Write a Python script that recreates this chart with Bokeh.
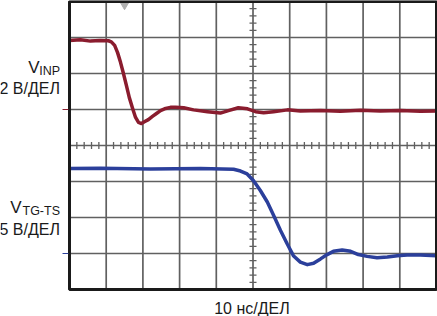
import math
from bokeh.plotting import figure
from bokeh.models import Range1d
from bokeh.core.properties import value
from bokeh.embed import file_html
from bokeh.resources import INLINE

# ---- data (x in horizontal divisions 0..10, y in vertical divisions 0..8) ----
inp_x = [0, 0.30, 0.57, 0.84, 1.06, 1.14, 1.23, 1.31, 1.39, 1.47, 1.55, 1.63, 1.72,
         1.80, 1.88, 1.96, 2.04, 2.15, 2.26, 2.37, 2.48, 2.62, 2.75, 2.89, 3.11,
         3.38, 3.76, 4.11, 4.33, 4.60, 4.85, 5.07, 5.29, 5.56, 5.94, 6.29, 6.84,
         7.38, 7.93, 8.47, 9.02, 9.56, 10]
inp_y = [6.92, 6.94, 6.90, 6.92, 6.91, 6.88, 6.78, 6.58, 6.31, 6.00, 5.67, 5.33, 5.03,
         4.78, 4.64, 4.61, 4.66, 4.72, 4.81, 4.89, 4.97, 5.03, 5.06, 5.06, 5.05,
         4.99, 4.94, 4.90, 4.97, 5.05, 5.02, 4.94, 4.91, 4.94, 4.99, 4.96, 4.97,
         4.95, 4.98, 4.96, 4.97, 4.95, 4.96]

tg_x = [0, 0.84, 2.21, 3.57, 4.47, 4.66, 4.84, 5.01, 5.20, 5.39, 5.56, 5.75, 5.93,
        6.10, 6.29, 6.48, 6.65, 6.84, 7.02, 7.19, 7.43, 7.66, 7.87, 8.11, 8.38,
        8.66, 8.93, 9.20, 9.56, 10]
tg_y = [3.36, 3.37, 3.35, 3.36, 3.34, 3.29, 3.21, 3.03, 2.75, 2.43, 2.06, 1.64, 1.27,
        0.94, 0.76, 0.69, 0.73, 0.85, 0.97, 1.06, 1.10, 1.06, 0.97, 0.92, 0.88,
        0.90, 0.94, 0.96, 0.96, 0.94]

inp_ground = 5
tg_ground = 1
trigger_x = 1.5

x_major = list(range(0, 11))
y_major = list(range(0, 9))

RED = "#8a1c2e"
BLUE = "#2b3f9b"
GRID = "#606060"
INK = "#1a1a1a"
FONT = "Liberation Sans"

p = figure(width=437, height=316, output_backend="svg", toolbar_location=None,
           x_axis_location=None, y_axis_location=None,
           x_range=Range1d(-1.880, 10.027), y_range=Range1d(-0.75, 8.028),
           min_border=0, min_border_left=0, min_border_right=0,
           min_border_top=0, min_border_bottom=0)
for g in list(p.grid):
    g.visible = False
p.background_fill_color = "white"
p.border_fill_color = "white"
p.outline_line_color = None

# graticule
p.segment(x0=x_major, y0=[0] * len(x_major), x1=x_major, y1=[8] * len(x_major),
          line_color=GRID, line_width=1.7)
p.segment(x0=[0] * len(y_major), y0=y_major, x1=[10] * len(y_major), y1=y_major,
          line_color=GRID, line_width=1.7)

# minor ticks on centre lines
vy = [k * 0.2 for k in range(1, 40) if k % 5]
hx = [k * 0.2 for k in range(1, 50) if k % 5]
p.scatter(x=[5] * len(vy), y=vy, marker="dash", size=7, line_color=GRID, line_width=1.3)
p.scatter(x=hx, y=[4] * len(hx), marker="dash", size=7, angle=math.pi / 2,
          line_color=GRID, line_width=1.3)

# trigger marker
p.scatter(x=[trigger_x], y=[7.9], marker="inverted_triangle", size=8,
          fill_color="#b0b0b0", line_color="#b0b0b0")

# traces
p.line(inp_x, inp_y, line_color=RED, line_width=3.5, line_join="round")
p.line(tg_x, tg_y, line_color=BLUE, line_width=3.5, line_join="round")

# frame border
p.quad(left=[0], right=[10], bottom=[0], top=[8], fill_color=None,
       line_color=INK, line_width=3)

# ground markers
p.segment(x0=[-0.19], y0=[inp_ground], x1=[-0.03], y1=[inp_ground], line_color=RED, line_width=1)
p.segment(x0=[-0.19], y0=[tg_ground], x1=[-0.03], y1=[tg_ground], line_color=BLUE, line_width=1)

def lab(x, y, t, size, align):
    p.text(x=[x], y=[y], text=[t], text_font=value(FONT), text_font_size=value(size),
           text_align=align, text_baseline="alphabetic", text_color=INK)

lab(-0.259, 6.06, "INP", "12.5px", "right")
lab(-0.817, 6.17, "V", "17px", "right")
lab(-0.259, 5.58, "2 В/ДЕЛ", "16px", "right")
lab(-0.259, 2.17, "TG-TS", "12.5px", "right")
lab(-1.308, 2.28, "V", "17px", "right")
lab(-0.259, 1.67, "5 В/ДЕЛ", "16px", "right")
lab(4.97, -0.53, "10 нс/ДЕЛ", "16px", "center")

open("out.html", "w").write(file_html(p, INLINE))
